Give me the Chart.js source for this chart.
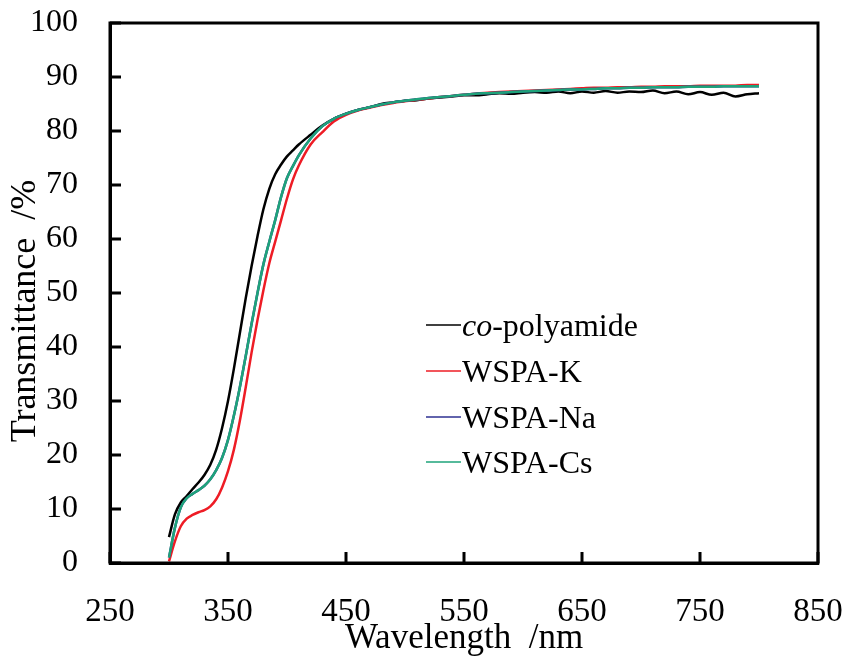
<!DOCTYPE html>
<html>
<head>
<meta charset="utf-8">
<script src="https://cdn.jsdelivr.net/npm/chart.js@4/dist/chart.umd.min.js"></script>
<style>
  html, body { margin: 0; padding: 0; background: #fff; }
  #wrap { width: 850px; height: 665px; position: relative; }
</style>
</head>
<body>
<div id="wrap"><canvas id="myChart"></canvas></div>
<script>
// wavelength (nm)
const wavelength = [300,305,310,315,320,325,330,335,340,345,350,355,360,365,370,375,380,385,390,395,400,405,410,
  420,430,440,450,460,470,480,490,500,510,520,530,540,550,560,570,580,590,600,610,620,630,640,650,660,670,680,690,
  700,710,720,730,740,750,760,770,780,790,800];

// transmittance (%)
const coPolyamide = [4.8,9.0,11.2,12.4,13.7,14.9,16.3,18.2,21.0,25.0,30.0,36.0,42.5,49.0,55.0,60.5,65.5,69.3,72.0,73.8,75.3,76.4,77.5,
  79.3,81.0,82.3,83.2,83.9,84.4,85.0,85.3,85.6,85.7,86.0,86.2,86.4,86.6,86.6,86.8,87.0,86.9,87.1,87.2,87.1,87.3,87.0,87.3,87.1,87.4,87.1,87.3,
  87.2,87.5,87.0,87.3,86.8,87.2,86.7,87.1,86.4,86.8,87.0];
const wspaK = [0.3,4.0,6.8,8.2,8.9,9.4,9.8,10.5,11.8,14.0,17.0,21.0,26.3,32.5,39.0,45.0,50.5,55.5,59.5,63.5,67.5,71.0,73.6,
  77.5,79.8,81.8,83.0,83.8,84.3,84.8,85.2,85.5,85.8,86.0,86.3,86.5,86.7,86.9,87.1,87.2,87.3,87.4,87.5,87.6,87.7,87.8,87.9,88.0,88.0,88.1,88.1,
  88.2,88.2,88.3,88.3,88.3,88.4,88.4,88.4,88.4,88.5,88.5];
const wspaNa = [1.0,6.5,10.3,12.0,12.8,13.5,14.3,15.5,17.2,19.5,22.8,27.3,32.5,38.3,44.3,50.0,55.3,59.5,63.5,67.8,71.3,73.5,75.5,
  78.6,80.9,82.3,83.2,83.9,84.4,84.9,85.3,85.6,85.9,86.1,86.3,86.5,86.7,86.9,87.0,87.1,87.2,87.3,87.4,87.5,87.6,87.7,87.7,87.8,87.9,87.9,88.0,
  88.0,88.1,88.1,88.1,88.2,88.2,88.2,88.3,88.3,88.3,88.3];
const wspaCs = [1.0,6.5,10.3,12.0,12.8,13.5,14.3,15.5,17.2,19.5,22.8,27.3,32.5,38.3,44.3,50.0,55.3,59.5,63.5,67.8,71.3,73.5,75.5,
  78.6,80.9,82.3,83.2,83.9,84.4,84.9,85.3,85.6,85.9,86.1,86.3,86.5,86.7,86.9,87.0,87.1,87.2,87.3,87.4,87.5,87.6,87.7,87.7,87.8,87.9,87.9,88.0,
  88.0,88.1,88.1,88.1,88.2,88.2,88.2,88.3,88.3,88.3,88.3];

const FONT = '"Liberation Serif", "Times New Roman", serif';

const toXY = (ys) => wavelength.map((w, i) => ({x: w, y: ys[i]}));

const mkSet = (label, color, ys, order) => ({
    label: label,
    data: toXY(ys),
    borderColor: color,
    backgroundColor: 'rgba(0,0,0,0)',
    borderWidth: 2.5,
    pointRadius: 0,
    cubicInterpolationMode: 'monotone',
    order: order
});

// frame, inward tick marks and the legend inside the plot
const frameAndLegend = {
    id: 'frameAndLegend',
    afterDraw(chart) {
        const ctx = chart.ctx;
        const a = chart.chartArea;
        const xs = chart.scales.x, ys = chart.scales.y;
        ctx.save();
        ctx.strokeStyle = '#000';
        ctx.lineWidth = 3;
        ctx.beginPath();
        xs.ticks.forEach(t => {
            const px = xs.getPixelForValue(t.value);
            ctx.moveTo(px, a.bottom);
            ctx.lineTo(px, a.bottom - 11);
        });
        ys.ticks.forEach(t => {
            const py = ys.getPixelForValue(t.value);
            ctx.moveTo(a.left, py);
            ctx.lineTo(a.left + 11, py);
        });
        ctx.stroke();
        ctx.strokeRect(a.left, a.top, a.right - a.left, a.bottom - a.top);

        const rows = [325, 371, 417, 462];
        chart.data.datasets.forEach((ds, i) => {
            const y = rows[i];
            ctx.strokeStyle = ds.borderColor;
            ctx.lineWidth = 1.5;
            ctx.beginPath();
            ctx.moveTo(426, y);
            ctx.lineTo(461, y);
            ctx.stroke();
            ctx.fillStyle = '#000';
            ctx.textBaseline = 'alphabetic';
            ctx.textAlign = 'left';
            let x = 462;
            if (i === 0) {
                ctx.font = 'italic 32px ' + FONT;
                ctx.fillText('co', x, y + 11);
                x += ctx.measureText('co').width;
                ctx.font = '32px ' + FONT;
                ctx.fillText('-polyamide', x, y + 11);
            } else {
                ctx.font = '32px ' + FONT;
                ctx.fillText(ds.label, x, y + 11);
            }
        });
        ctx.restore();
    }
};

var ctx = document.getElementById('myChart').getContext('2d');
var chart = new Chart(ctx, {
    type: 'line',
    data: {
        datasets: [
            mkSet('co-polyamide', '#000000', coPolyamide, 4),
            mkSet('WSPA-K', '#ee1c25', wspaK, 3),
            mkSet('WSPA-Na', '#2e3192', wspaNa, 2),
            mkSet('WSPA-Cs', '#1ea37a', wspaCs, 1)
        ]
    },
    options: {
        responsive: true,
        maintainAspectRatio: false,
        animation: false,
        layout: { padding: { top: 23, right: 32, left: 0, bottom: 0 } },
        plugins: {
            legend: { display: false },
            tooltip: { enabled: false }
        },
        scales: {
            x: {
                type: 'linear',
                min: 250,
                max: 850,
                ticks: { stepSize: 100, color: '#000', padding: 22, font: { family: FONT, size: 33 } },
                grid: { display: false },
                border: { display: true, color: '#000', width: 3 },
                title: { display: true, text: 'Wavelength  /nm', color: '#000', padding: { top: 0, bottom: 5 }, font: { family: FONT, size: 35 } },
                afterFit: (s) => { s.height = 102; s.paddingLeft = 0; s.paddingRight = 0; }
            },
            y: {
                min: 0,
                max: 100,
                ticks: { stepSize: 10, color: '#000', padding: 24, font: { family: FONT, size: 32 } },
                grid: { display: false },
                border: { display: true, color: '#000', width: 3 },
                title: { display: true, text: 'Transmittance  /%    ', color: '#000', padding: { top: 4, bottom: 0 }, font: { family: FONT, size: 36 } },
                afterFit: (s) => { s.width = 110; s.paddingTop = 0; s.paddingBottom = 0; }
            }
        }
    },
    plugins: [frameAndLegend]
});
</script>
</body>
</html>
